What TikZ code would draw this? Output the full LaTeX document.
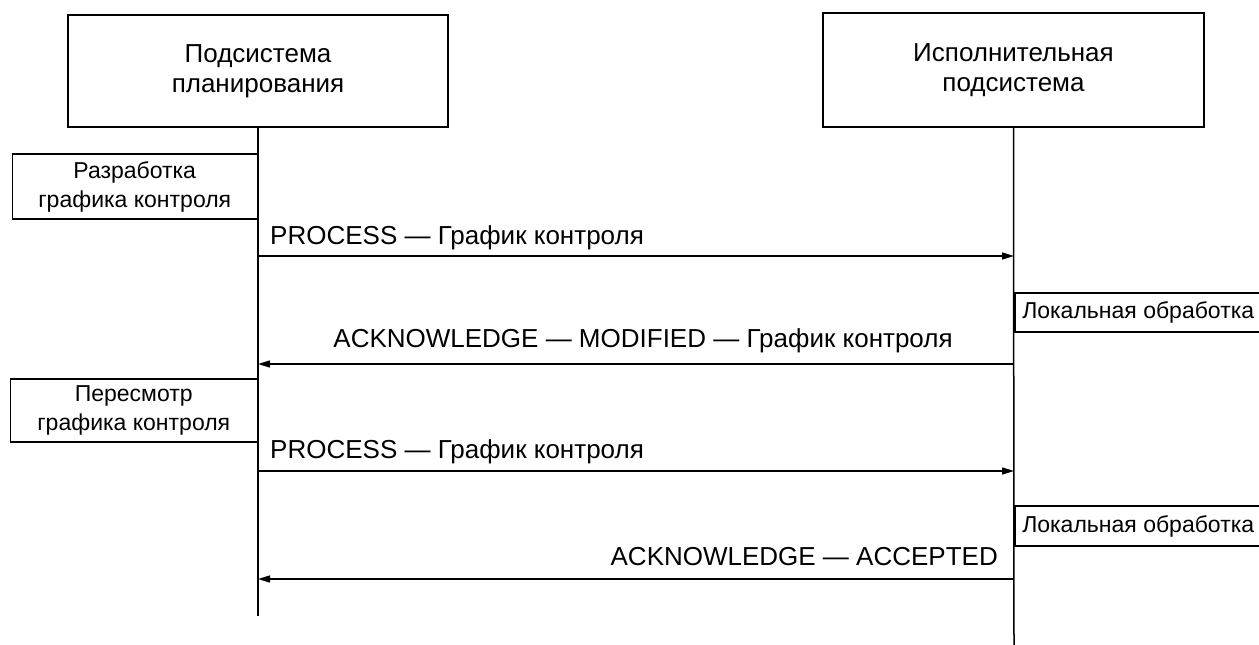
\documentclass[tikz,border=0pt]{standalone}
\usepackage{fontspec}
\setmainfont{Liberation Sans}
\usepackage{tikz}
\usetikzlibrary{arrows.meta, positioning, calc}
\newcommand{\msgfont}{\fontsize{26}{30}\selectfont}
\newcommand{\actfont}{\fontsize{23}{29}\selectfont}

\begin{document}
\begin{tikzpicture}[
    x=1pt, y=-1pt,
    box/.style={rectangle, draw, line width=1.5pt, align=center, inner sep=2pt, font=\msgfont},
    actbox/.style={box, font=\actfont},
    msg/.style={inner sep=0pt, font=\msgfont},
    life/.style={line width=1.5pt},
    arrow/.style={-{Triangle[length=12pt, width=7pt]}, line width=1.5pt}
]
    \useasboundingbox (0,0) rectangle (1259,645);

    % Subsystems
    \node[box, minimum width=380pt, minimum height=112pt] (plan) at (258,71) {Подсистема\\планирования};
    \node[box, minimum width=381pt, minimum height=114pt] (exec) at (1013.5,70) {Исполнительная\\подсистема};

    % Lifelines
    \coordinate (planend) at (258,616);
    \coordinate (execend) at (1014,645);
    \draw[life] (plan.south) -- (planend);
    \draw[life] (exec.south) -- (execend);

    % Activities
    \node[actbox, anchor=east, minimum width=245pt, minimum height=65pt] (develop) at (258,186.5) {Разработка\\графика контроля};
    \node[actbox, anchor=east, minimum width=247pt, minimum height=63pt] (revise) at (258,410.5) {Пересмотр\\графика контроля};
    \node[actbox, anchor=west, minimum width=247pt, minimum height=39pt] (local1) at (1014,312.5) {Локальная обработка};
    \node[actbox, anchor=west, minimum width=247pt, minimum height=40pt] (local2) at (1014,526) {Локальная обработка};

    % Message ends
    \coordinate (p1) at (258,256);   \coordinate (e1) at (1014,256);
    \coordinate (p2) at (258,364);   \coordinate (e2) at (1014,364);
    \coordinate (p3) at (258,471);   \coordinate (e3) at (1014,471);
    \coordinate (p4) at (258,579);   \coordinate (e4) at (1014,579);

    % Messages
    \draw[arrow] (p1) -- (e1);
    \draw[arrow] (e2) -- (p2);
    \draw[arrow] (p3) -- (e3);
    \draw[arrow] (e4) -- (p4);

    % Message labels
    \node[msg, anchor=base west] (l1) at (270,244) {PROCESS — График контроля};
    \node[msg, anchor=base] (l2) at (643,347) {ACKNOWLEDGE — MODIFIED — График контроля};
    \node[msg, anchor=base west] (l3) at (270,458) {PROCESS — График контроля};
    \node[msg, anchor=base east] (l4) at (998,565) {ACKNOWLEDGE — ACCEPTED};

\end{tikzpicture}
\end{document}
